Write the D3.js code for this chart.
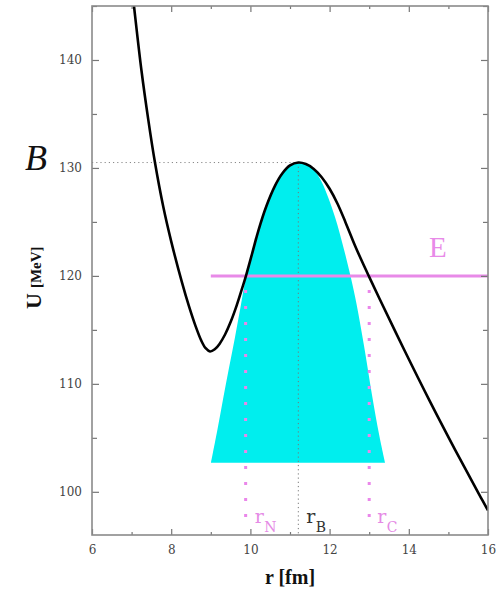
<!DOCTYPE html>
<html>
<head>
<meta charset="utf-8">
<script src="https://cdn.jsdelivr.net/npm/d3@7"></script>
<style>
  html, body { margin: 0; padding: 0; background: #fff; }
  svg { display: block; }
</style>
</head>
<body>
<svg id="chart" width="500" height="591"></svg>
<script>
// Potential U(r) between two nuclei: nuclear pocket, Coulomb barrier, tail
const curveR = [6.97, 7.06, 7.25, 7.42, 7.59, 7.8, 8.0, 8.27, 8.45, 8.62, 8.76, 8.87, 8.98, 9.1, 9.22, 9.36, 9.5, 9.65, 9.8, 9.89, 10.05, 10.2, 10.4, 10.62, 10.8, 11.0, 11.21, 11.4, 11.6, 11.8, 12.0, 12.2, 12.4, 12.64, 12.82, 13.0, 13.27, 13.88, 14.53, 15.17, 15.82, 16.0];
const curveU = [148.0, 145.0, 139.0, 134.5, 130.5, 126.4, 123.2, 119.42, 117.17, 115.3, 114.0, 113.3, 113.0, 113.2, 113.7, 114.57, 115.72, 117.22, 118.95, 120.03, 122.16, 124.18, 126.43, 128.34, 129.46, 130.23, 130.5, 130.36, 129.91, 129.14, 128.07, 126.68, 124.98, 122.82, 121.33, 119.91, 117.82, 113.18, 108.4, 103.89, 99.47, 98.27];

// Shaded barrier region (outline, closed by a flat bottom)
const shadeR = [9.005, 9.16, 9.31, 9.46, 9.61, 9.76, 9.89, 10.05, 10.2, 10.4, 10.62, 10.8, 11.0, 11.21, 11.4, 11.6, 11.8, 11.96, 12.14, 12.36, 12.54, 12.68, 12.87, 13.07, 13.25, 13.4];
const shadeU = [102.7, 105.6, 108.6, 111.5, 114.3, 117.3, 119.9, 122.16, 124.18, 126.43, 128.34, 129.46, 130.23, 130.5, 130.36, 129.85, 128.7, 127.3, 125.4, 122.5, 119.8, 117.4, 113.5, 109.0, 105.3, 102.7];

// Barrier top, energy level and turning points
const barrierR = 11.21, barrierU = 130.5;
const energyU = 120, energyFrom = 9.0;
const rN = 9.88, rC = 13.0;

// Axis ticks
const xMajor = [6, 8, 10, 12, 14, 16];
const xMinor = [7, 9, 11, 13, 15];
const yMajor = [100, 110, 120, 130, 140];
const yMinor = [105, 115, 125, 135, 145];

const svg = d3.select("#chart");
const pLeft = 92, pRight = 488, pTop = 6, pBottom = 535;

const x = d3.scaleLinear().domain([6, 16]).range([pLeft, pRight]);
const y = d3.scaleLinear().domain([96, 145]).range([pBottom, pTop]);

svg.append("defs").append("clipPath").attr("id", "plot")
  .append("rect").attr("x", pLeft).attr("y", pTop)
  .attr("width", pRight - pLeft).attr("height", pBottom - pTop);

const plot = svg.append("g").attr("clip-path", "url(#plot)");
const line = d3.line().x(d => x(d[0])).y(d => y(d[1])).curve(d3.curveCatmullRom.alpha(0.5));

// cyan region
const shadePts = shadeR.map((r, i) => [r, shadeU[i]]);
plot.append("path")
  .attr("d", line(shadePts) + "Z")
  .attr("fill", "#00eeee").attr("stroke", "none");

// grey dotted guides to the barrier top
plot.append("line")
  .attr("x1", x(6)).attr("x2", x(barrierR))
  .attr("y1", y(barrierU)).attr("y2", y(barrierU))
  .attr("stroke", "#888").attr("stroke-width", 1).attr("stroke-dasharray", "1.2,3");
plot.append("line")
  .attr("x1", x(barrierR)).attr("x2", x(barrierR))
  .attr("y1", y(barrierU)).attr("y2", y(96))
  .attr("stroke", "#777").attr("stroke-width", 1).attr("stroke-dasharray", "1.2,3");

// turning points
[rN, rC].forEach(r => {
  plot.append("line")
    .attr("x1", x(r)).attr("x2", x(r))
    .attr("y1", y(energyU) + 14).attr("y2", y(96.9))
    .attr("stroke", "#ea86ea").attr("stroke-width", 3)
    .attr("stroke-dasharray", "3,13");
});

// energy level
plot.append("line")
  .attr("x1", x(energyFrom)).attr("x2", x(16))
  .attr("y1", y(energyU)).attr("y2", y(energyU))
  .attr("stroke", "#e88ae8").attr("stroke-width", 3);

// potential curve
const curvePts = curveR.map((r, i) => [r, curveU[i]]);
plot.append("path")
  .attr("d", line(curvePts))
  .attr("fill", "none").attr("stroke", "#000").attr("stroke-width", 2.6)
  .attr("stroke-linejoin", "round");

// axes: ticks pointing inward on all four sides
const tickFont = "DejaVu Serif, serif";
function styleAxis(g) {
  g.select(".domain").remove();
  g.selectAll(".tick line").attr("stroke", "#777").attr("stroke-width", 1.2);
  g.selectAll(".tick text").attr("font-family", tickFont).attr("font-size", 12).attr("fill", "#444");
}
svg.append("g").attr("transform", `translate(0,${pBottom})`)
  .call(d3.axisBottom(x).tickValues(xMajor).tickSize(-6).tickPadding(10).tickFormat(d3.format("d"))).call(styleAxis);
svg.append("g").attr("transform", `translate(0,${pBottom})`)
  .call(d3.axisBottom(x).tickValues(xMinor).tickSize(-3).tickFormat("")).call(styleAxis);
svg.append("g").attr("transform", `translate(0,${pTop})`)
  .call(d3.axisTop(x).tickValues(xMajor).tickSize(-6).tickFormat("")).call(styleAxis);
svg.append("g").attr("transform", `translate(0,${pTop})`)
  .call(d3.axisTop(x).tickValues(xMinor).tickSize(-3).tickFormat("")).call(styleAxis);
svg.append("g").attr("transform", `translate(${pLeft},0)`)
  .call(d3.axisLeft(y).tickValues(yMajor).tickSize(-7).tickPadding(10).tickFormat(d3.format("d"))).call(styleAxis);
svg.append("g").attr("transform", `translate(${pLeft},0)`)
  .call(d3.axisLeft(y).tickValues(yMinor).tickSize(-5).tickFormat("")).call(styleAxis);
svg.append("g").attr("transform", `translate(${pRight},0)`)
  .call(d3.axisRight(y).tickValues(yMajor).tickSize(-7).tickFormat("")).call(styleAxis);
svg.append("g").attr("transform", `translate(${pRight},0)`)
  .call(d3.axisRight(y).tickValues(yMinor).tickSize(-5).tickFormat("")).call(styleAxis);

// frame
svg.append("rect")
  .attr("x", pLeft).attr("y", pTop).attr("width", pRight - pLeft).attr("height", pBottom - pTop)
  .attr("fill", "none").attr("stroke", "#8a8a8a").attr("stroke-width", 1.6);

// axis titles
const serif = "Liberation Serif, Times New Roman, serif";
svg.append("text")
  .attr("x", 290).attr("y", 584).attr("text-anchor", "middle")
  .attr("font-family", serif).attr("font-weight", "bold").attr("font-size", 20)
  .attr("fill", "#111").text("r [fm]");

const yTitle = svg.append("text")
  .attr("transform", "translate(41,309) rotate(-90)")
  .attr("font-family", serif).attr("font-weight", "bold").attr("fill", "#111");
yTitle.append("tspan").attr("font-size", 22).text("U");
yTitle.append("tspan").attr("font-size", 15).attr("dx", 5).text("[MeV]");

svg.append("text")
  .attr("x", 25).attr("y", 170)
  .attr("font-family", serif).attr("font-style", "italic").attr("font-size", 36)
  .attr("fill", "#111").text("B");

// energy label
svg.append("text")
  .attr("x", 429).attr("y", 257)
  .attr("font-family", serif).attr("font-size", 29)
  .attr("fill", "#e88ae8").text("E");

// radius labels
const rLabelFont = "DejaVu Serif, serif";
function rLabel(px, sub, color) {
  const t = svg.append("text").attr("font-family", rLabelFont).attr("fill", color);
  t.append("tspan").attr("x", px).attr("y", 523).attr("font-size", 19).attr("font-weight", 300).text("r");
  t.append("tspan").attr("x", px + 9.5).attr("y", 532).attr("font-size", 14).text(sub);
}
rLabel(x(rN) + 9, "N", "#e58ae5");
rLabel(x(barrierR) + 8, "B", "#333");
rLabel(x(rC) + 8, "C", "#e58ae5");
</script>
</body>
</html>
